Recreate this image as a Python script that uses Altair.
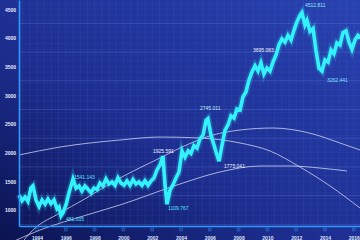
import altair as alt
import pandas as pd

# ---- main index series ----
years = [1992.75, 1992.96, 1993.17, 1993.37, 1993.58, 1993.72, 1993.93, 1994.14, 1994.35, 1994.56,
         1994.76, 1994.97, 1995.18, 1995.39, 1995.53, 1995.67, 1995.80, 1996.01, 1996.22, 1996.50,
         1996.71, 1996.92, 1997.12, 1997.33, 1997.54, 1997.75, 1997.96, 1998.17, 1998.37, 1998.58,
         1998.79, 1999.00, 1999.21, 1999.42, 1999.62, 1999.83, 2000.04, 2000.25, 2000.46, 2000.67,
         2000.87, 2001.08, 2001.29, 2001.50, 2001.71, 2001.92, 2002.12, 2002.33, 2002.54, 2002.75,
         2002.89, 2003.03, 2003.24, 2003.44, 2003.65, 2003.86, 2004.07, 2004.28, 2004.49, 2004.69,
         2004.90, 2005.11, 2005.32, 2005.53, 2005.74, 2005.87, 2006.08, 2006.29, 2006.50, 2006.64,
         2006.85, 2007.06, 2007.26, 2007.47, 2007.68, 2007.89, 2008.10, 2008.30, 2008.51, 2008.72,
         2008.93, 2009.14, 2009.35, 2009.55, 2009.76, 2009.97, 2010.18, 2010.39, 2010.60, 2010.80,
         2011.01, 2011.22, 2011.43, 2011.64, 2011.85, 2012.05, 2012.26, 2012.40, 2012.61, 2012.75,
         2012.96, 2013.17, 2013.37, 2013.58, 2013.79, 2014.00, 2014.21, 2014.42, 2014.62, 2014.83,
         2015.04, 2015.25, 2015.46, 2015.66, 2015.87, 2016.08, 2016.29, 2016.50]
values = [1261, 1160, 1226, 1150, 1383, 1420, 1174, 1060, 1174, 1100,
          1191, 1110, 1174, 1020, 1052, 900, 948, 1087, 1296, 1540,
          1380, 1418, 1330, 1418, 1360, 1300, 1383, 1360, 1470, 1418,
          1540, 1453, 1488, 1430, 1560, 1470, 1430, 1505, 1430, 1530,
          1453, 1488, 1430, 1510, 1430, 1505, 1557, 1697, 1784, 1940,
          1435, 1100, 1348, 1435, 1557, 1662, 2030, 1920, 2030, 1985,
          2120, 2080, 2240, 2306, 2560, 2590, 2306, 2132, 1958, 1850,
          2132, 2393, 2481, 2640, 2602, 2760, 2742, 2968, 3055, 3264,
          3404, 3510, 3420, 3560, 3370, 3473, 3420, 3578, 3700, 3874,
          3980, 3926, 4040, 3961, 4135, 4275, 4390, 4440, 4223, 4300,
          4110, 4160, 3787, 3473, 3420, 3613, 3578, 3787, 3720, 3910,
          3874, 4090, 4120, 3926, 3800, 3961, 4040, 3996]

# ---- thin trend arcs ----
arc_a_years = [1992.75, 1995.60, 1999.76, 2002.54, 2005.32, 2008.10, 2010.18, 2012.26, 2014.35, 2016.43]
arc_a_vals = [1958, 2097, 2219, 2271, 2254, 2167, 2028, 1749, 1418, 1035]
arc_b_years = [1992.82, 1993.72, 1995.60, 1997.19, 1999.76, 2002.54, 2003.93, 2006.22, 2008.10, 2010.39, 2013.17, 2015.04, 2016.43]
arc_b_vals = [390, 651, 948, 1174, 1557, 1906, 2080, 2306, 2393, 2428, 2324, 2167, 2045]
arc_c_years = [1992.12, 1994.21, 1996.99, 1999.76, 2003.93, 2006.71, 2009.49, 2011.57, 2013.65, 2015.53]
arc_c_vals = [425, 651, 878, 1087, 1453, 1662, 1766, 1766, 1731, 1679]

# ---- annotations ----
ann_text = ["1541.143", "481.005", "1925.591", "1109.767", "2745.011", "1775.041", "3695.083", "4512.811", "3262.441"]
ann_year = [1996.57, 1996.01, 2002.05, 2003.10, 2005.32, 2006.99, 2009.00, 2012.61, 2014.14]
ann_val = [1575, 843, 2028, 1035, 2777, 1766, 3787, 4571, 3264]
ann_color = ["#4fe6ff", "#4fe6ff", "#f2f4ff", "#4fe6ff", "#bfefff", "#f2f4ff", "#f2f4ff", "#8fe8ff", "#7fe2ff"]

x_labels = [1994, 1996, 1998, 2000, 2002, 2004, 2006, 2008, 2010, 2012, 2014, 2016]
y_labels = [1000, 1500, 2000, 2500, 3000, 3500, 4000, 4500]
grid_years = [1993 + 0.5 * i for i in range(48)]
grid_minor = [800 + 100 * i for i in range(40)]
grid_major = [750 + 500 * i for i in range(8)]

X_DOM = [1992.75, 2016.43]
Y_DOM = [721, 4658]
xs = alt.Scale(domain=X_DOM, nice=False, zero=False)
ys = alt.Scale(domain=Y_DOM, nice=False, zero=False)

xaxis = alt.Axis(values=x_labels, format="d", labelFontSize=5, labelFont="Liberation Sans",
                 labelFontWeight="bold", labelColor="#dfe5ff", labelPadding=11, labelBaseline="middle",
                 domainColor="#2f9bff", domainWidth=1.6, ticks=False, tickSize=0, grid=False,
                 labelFlush=False, labelOverlap=False, title=None, zindex=2)
yaxis = alt.Axis(values=y_labels, format="d", labelFontSize=5, labelFont="Liberation Sans",
                 labelFontWeight="bold", labelColor="#e6eaff", labelPadding=9, labelAlign="center",
                 labelBaseline="middle", domainColor="#2f9bff", domainWidth=1.6, ticks=False, tickSize=0,
                 grid=False, title=None, zindex=2)

def X(f):
    return alt.X(f, type="quantitative", scale=xs, axis=xaxis)

def Y(f):
    return alt.Y(f, type="quantitative", scale=ys, axis=yaxis)

bg = alt.Chart(pd.DataFrame({"a": [0]})).mark_rect(
    color=alt.Gradient(gradient="linear", x1=0, y1=1, x2=1, y2=0,
                       stops=[alt.GradientStop(color="#0b1350", offset=0),
                              alt.GradientStop(color="#1c2d8e", offset=0.4),
                              alt.GradientStop(color="#2842b0", offset=1)]),
    clip=False
).encode(x=alt.value(-19), x2=alt.value(341), y=alt.value(0), y2=alt.value(240))

gv = alt.Chart(pd.DataFrame({"yr": grid_years})).mark_rule(
    color="#6f8cf0", opacity=0.18, strokeWidth=0.6).encode(x=X("yr"))
gh = alt.Chart(pd.DataFrame({"v": grid_minor})).mark_rule(
    color="#6f8cf0", opacity=0.13, strokeWidth=0.6).encode(y=Y("v"))
gm = alt.Chart(pd.DataFrame({"v": grid_major})).mark_rule(
    color="#7f9cff", opacity=0.3, strokeWidth=0.8).encode(y=Y("v"))

arcs = pd.concat([
    pd.DataFrame({"yr": arc_a_years, "v": arc_a_vals, "c": "a"}),
    pd.DataFrame({"yr": arc_b_years, "v": arc_b_vals, "c": "b"}),
    pd.DataFrame({"yr": arc_c_years, "v": arc_c_vals, "c": "c"}),
])
arc_layer = alt.Chart(arcs).mark_line(
    color="#e4e8ff", strokeWidth=1, opacity=0.7, interpolate="monotone", clip=False
).encode(x=X("yr"), y=Y("v"), detail="c:N")

main = pd.DataFrame({"yr": years, "v": values})
glow = alt.Chart(main).mark_line(color="#38e8ff", strokeWidth=7, opacity=0.2, clip=False,
                                 strokeJoin="miter").encode(x=X("yr"), y=Y("v"))
line = alt.Chart(main).mark_line(color="#33f2ff", strokeWidth=3.6, clip=False,
                                 strokeJoin="miter").encode(x=X("yr"), y=Y("v"))

ann = pd.DataFrame({"t": ann_text, "yr": ann_year, "v": ann_val, "col": ann_color})
ann_layer = alt.Chart(ann).mark_text(align="left", baseline="middle", fontSize=5,
                                     font="Liberation Sans", clip=False).encode(
    x=X("yr"), y=Y("v"), text="t:N", color=alt.Color("col:N", scale=None))

ticks = alt.Chart(pd.DataFrame({"yr": x_labels})).mark_point(
    shape="square", size=7, filled=False, strokeWidth=0.7, color="#3aa0ff", clip=False
).encode(x=X("yr"), y=alt.value(229.5))

chart = alt.layer(bg, gv, gh, gm, arc_layer, glow, line, ann_layer, ticks).properties(
    width=341, height=226,
    padding={"left": 19, "top": 0, "right": 0, "bottom": 14},
    autosize=alt.AutoSizeParams(type="none"),
    background="#0c1654",
).configure_view(strokeWidth=0)

chart.save("out.html", embed_options={"renderer": "svg", "actions": False})
